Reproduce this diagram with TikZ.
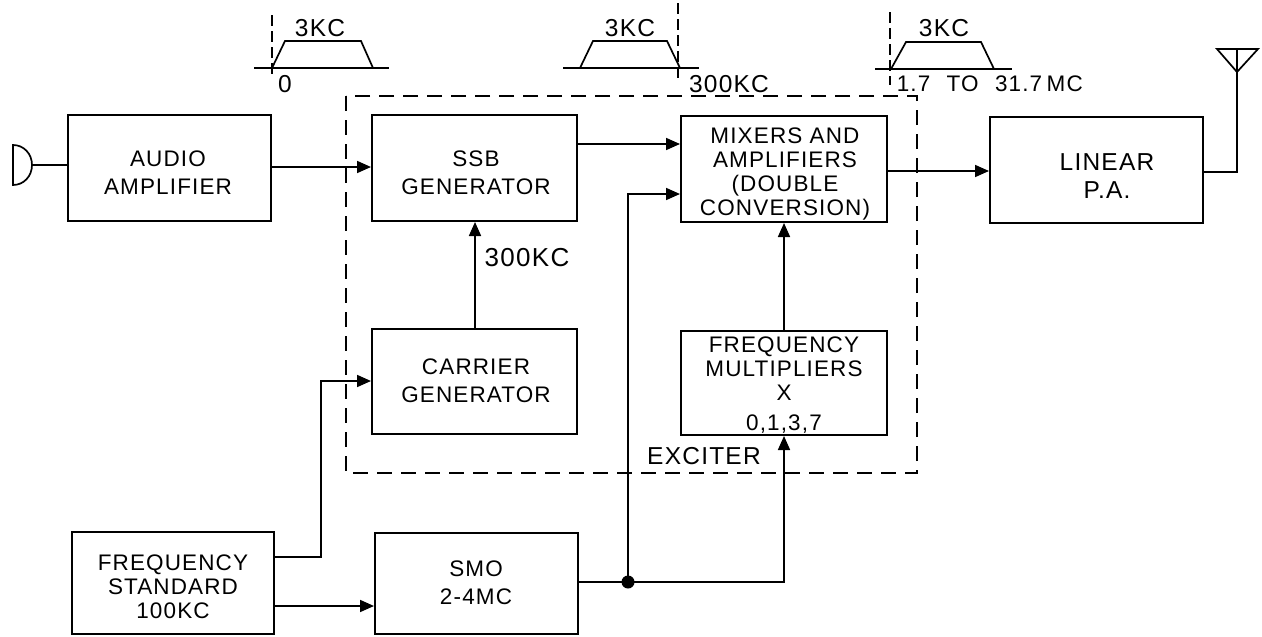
\documentclass[tikz,border=0pt]{standalone}
\usepackage{fontspec}
\setmainfont[LetterSpace=5]{Liberation Sans}
\usetikzlibrary{arrows.meta}
\tikzset{
  x=1pt,y=-1pt,
  every path/.style={line width=1.7pt,black},
  blockbox/.style={draw,line width=2pt,inner sep=0pt},
  lab/.style={inner sep=0pt,font=\fontsize{22.5}{24}\selectfont,align=center},
  roomy/.style={font=\fontsize{22.5}{28}\selectfont},
  big/.style={font=\fontsize{24.5}{28}\selectfont},
  link/.style={-{Triangle[length=14pt,width=12pt]},line width=1.7pt},
  plain/.style={line width=1.7pt},
  thinline/.style={line width=1.5pt},
  longdash/.style={line width=1.7pt,dash pattern=on 15pt off 9pt},
  shortdash/.style={line width=1.4pt,dash pattern=on 11pt off 5pt}
}
\newcommand{\blk}[5]{\node[blockbox,minimum width=#4-#2,minimum height=#5-#3] (#1) at ({(#2+#4)/2},{(#3+#5)/2}) {};}
\begin{document}
\begin{tikzpicture}
\useasboundingbox[fill=white] (0,0) rectangle (1262,637);
\blk{audio}{68}{115}{271}{221}
\node[lab,roomy] (audioT) at (168,173) {AUDIO\\AMPLIFIER};
\blk{ssb}{372}{115}{577}{221}
\node[lab,roomy] (ssbT) at (476,173) {SSB\\GENERATOR};
\blk{mixers}{681}{116}{887}{222}
\node[lab] (mixersT) at (785,174) {MIXERS AND\\AMPLIFIERS\\(DOUBLE\\CONVERSION)};
\blk{linear}{990}{117}{1203}{223}
\node[lab,big] (linearT) at (1107,176) {LINEAR\\P.A.};
\blk{carrier}{372}{329}{577}{434}
\node[lab,roomy] (carrierT) at (476,381) {CARRIER\\GENERATOR};
\blk{mult}{681}{331}{887}{435}
\node[lab] (multT) at (784,385) {FREQUENCY\\MULTIPLIERS\\X\\[6pt]0,1,3,7};
\blk{std}{72}{532}{274}{634}
\node[lab] (stdT) at (173,587) {FREQUENCY\\STANDARD\\100KC};
\blk{smo}{375}{533}{578}{634}
\node[lab,roomy] (smoT) at (476,583) {SMO\\2-4MC};
% exciter boundary
\draw[longdash] (346,96) rectangle (917,473);
\node[lab,big] (exc) at (704,456) {EXCITER};
% microphone
\coordinate (mic) at (32,165);
\draw[plain] (mic) .. controls (32,176) and (24,185) .. (13,185) -- (13,145) .. controls (24,145) and (32,154) .. (mic);
\draw[plain] (mic) -- (audio.west |- mic);
% antenna
\coordinate (ant) at (1237,72);
\coordinate (antT) at (1237,49);
\draw[plain,line join=miter] (1217,49) -- (1258,49) -- (ant) -- cycle;
\draw[plain] (antT) -- (ant);
\coordinate (linOut) at (1203,172);
\draw[plain] (linOut) -- (ant |- linOut) -- (ant);
% connectors
\draw[link] (audio.east |- 0,167) -- (ssb.west |- 0,167);
\draw[link] (ssb.east |- 0,144) -- (mixers.west |- 0,144);
\draw[link] (mixers.east |- 0,171) -- (linear.west |- 0,171);
\draw[link] (carrier.north -| 475,0) -- (ssb.south -| 475,0);
\draw[link] (mult.north -| 784,0) -- (mixers.south -| 784,0);
\coordinate (stdA) at (274,557);
\coordinate (bendA) at (321,557);
\draw[link] (stdA) -- (bendA) -- (bendA |- 0,381) -- (carrier.west |- 0,381);
\draw[link] (std.east |- 0,606) -- (smo.west |- 0,606);
\coordinate (jn) at (628,582);
\draw[link] (smo.east |- jn) -- (784,582) -- (mult.south -| 784,0);
\draw[link] (jn) -- (628,194) -- (mixers.west |- 0,194);
\fill (jn) circle (6.5pt);
\node[lab,font=\fontsize{26}{28}\selectfont] (k300) at (527,258) {300KC};
% spectrum 1
\draw[shortdash] (272,15) -- (272,78);
\draw[thinline] (254,68) -- (389,68);
\draw[plain] (272,68) -- (285,41) -- (361,41) -- (373,68);
\node[lab,big] (a1) at (320,28) {3KC};
\node[lab,big] (a2) at (285,84) {0};
% spectrum 2
\draw[shortdash] (678,3) -- (678,80);
\draw[thinline] (563,68) -- (699,68);
\draw[plain] (580,68) -- (593,41) -- (667,41) -- (680,68);
\node[lab,big] (b1) at (630,28) {3KC};
\node[lab,big] (b2) at (729,84) {300KC};
% spectrum 3
\draw[shortdash] (890,12) -- (890,85);
\draw[thinline] (875,69) -- (1012,69);
\draw[plain] (891,69) -- (906,42) -- (981,42) -- (994,69);
\node[lab,big] (c1) at (944,28) {3KC};
\node[lab,anchor=west] (c2) at (896,84) {1.7\hspace{9pt} TO\hspace{9pt} 31.7\hspace{-3pt} MC};
\end{tikzpicture}
\end{document}
